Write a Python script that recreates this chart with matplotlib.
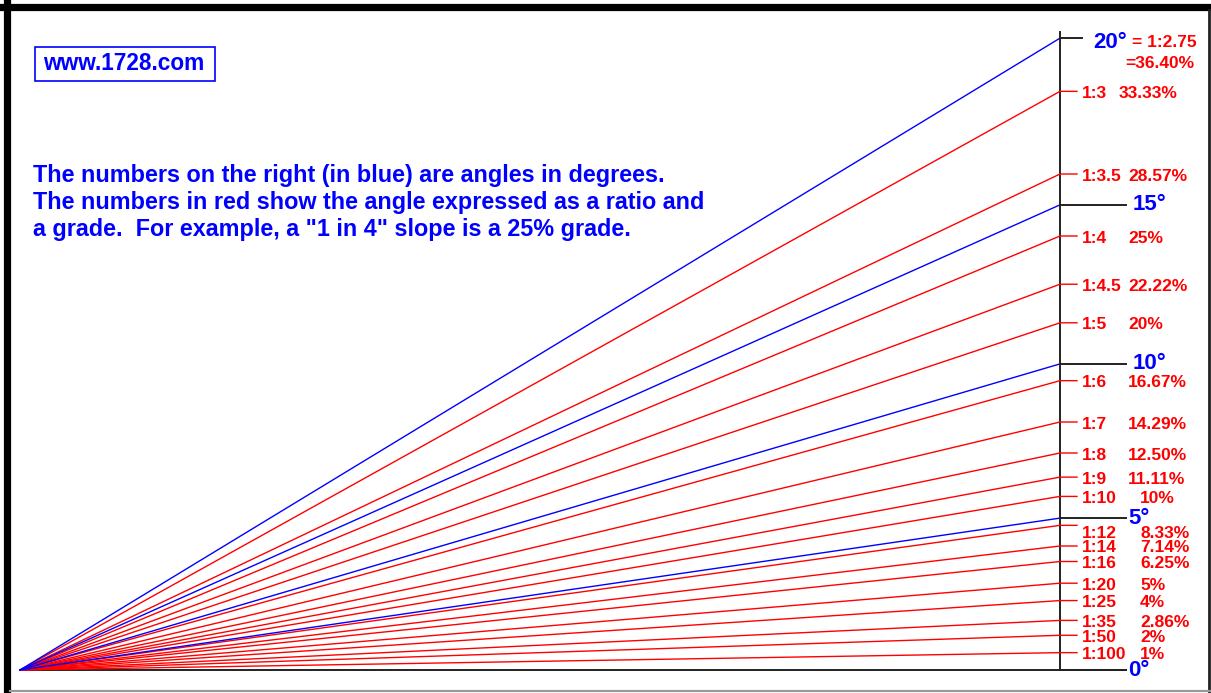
import numpy as np
import matplotlib.pyplot as plt
from matplotlib.patches import Rectangle
from matplotlib.lines import Line2D

# slope ratios (1 in n) with their labels
ratios = [3, 3.5, 4, 4.5, 5, 6, 7, 8, 9, 10, 12, 14, 16, 20, 25, 35, 50, 100]
ratio_labels = ['1:3', '1:3.5', '1:4', '1:4.5', '1:5', '1:6', '1:7', '1:8', '1:9',
                '1:10', '1:12', '1:14', '1:16', '1:20', '1:25', '1:35', '1:50', '1:100']
grade_labels = ['33.33%', '28.57%', '25%', '22.22%', '20%', '16.67%', '14.29%', '12.50%',
                '11.11%', '10%', '8.33%', '7.14%', '6.25%', '5%', '4%', '2.86%', '2%', '1%']

# angles in degrees
angles = [0, 5, 10, 15, 20]
angle_labels = ['0°', '5°', '10°', '15°', '20°']

note_lines = ['The numbers on the right (in blue) are angles in degrees.',
              'The numbers in red show the angle expressed as a ratio and',
              'a grade.  For example, a "1 in 4" slope is a 25% grade.']
site = 'www.1728.com'

# layout (pixels)
W, H = 1211, 693
X0, XA, Y0 = 20, 1060, 670
PPS = 1736.0

def dx(p):
    return (p - X0) / (XA - X0)

def dy(p):
    return (Y0 - p) / PPS

RED = '#ff0000'
BLUE = '#0000ff'
FONT = ['Liberation Sans', 'DejaVu Sans']

fig = plt.figure(figsize=(W / 100, H / 100), dpi=100)
ax = fig.add_axes([0, 0, 1, 1])
ax.set_xlim(dx(0), dx(W))
ax.set_ylim(dy(H), dy(0))
ax.axis('off')

# baseline (0 deg) and vertical scale line
ax.plot([0, dx(1126)], [0, 0], color='#222222', lw=1.4)
ax.plot([1, 1], [0, dy(32)], color='#222222', lw=1.4)

# red ratio lines
slopes = [1.0 / r for r in ratios]
nudge = {12: -6}
for r, s, rl, gl in zip(ratios, slopes, ratio_labels, grade_labels):
    ax.plot([0, 1, dx(1077)], [0, s, s], color=RED, lw=1.0)
    off = -2 + nudge.get(r, 0)
    ax.annotate(rl, xy=(1, s), xytext=(1082 - XA, off), textcoords='offset pixels',
                va='center', ha='left', color=RED, fontsize=12.5,
                fontweight='bold', family=FONT)
    if s <= 0.1001:
        gx = 1140
    elif r == 3:
        gx = 1119
    else:
        gx = 1128
    ax.annotate(gl, xy=(1, s), xytext=(gx - XA, off), textcoords='offset pixels',
                va='center', ha='left', color=RED, fontsize=12.5,
                fontweight='bold', family=FONT)

# blue angle lines
for a, al in zip(angles, angle_labels):
    t = np.tan(np.radians(a))
    if a > 0:
        ax.plot([0, 1], [0, t], color=BLUE, lw=1.0)
    stub = 1082 if a == 20 else 1126
    ax.plot([1, dx(stub)], [t, t], color='#222222', lw=1.4)
    lx = 1093 if a == 20 else (1128 if a in (0, 5) else 1133)
    off = -4 if a == 20 else 0
    ax.annotate(al, xy=(1, t), xytext=(lx - XA, off), textcoords='offset pixels',
                va='center', ha='left', color=BLUE, fontsize=16,
                fontweight='bold', family=FONT)

t20 = np.tan(np.radians(20))
ax.annotate('= 1:%.2f' % (1 / t20), xy=(1, t20), xytext=(1132 - XA, -4),
            textcoords='offset pixels', va='center', ha='left', color=RED,
            fontsize=12.5, fontweight='bold', family=FONT)
ax.annotate('=%.2f%%' % (100 * t20), xy=(1, t20), xytext=(1125 - XA, -25),
            textcoords='offset pixels', va='center', ha='left', color=RED,
            fontsize=12.5, fontweight='bold', family=FONT)

# explanatory note
for i, line in enumerate(note_lines):
    ax.text(dx(33), dy(182 + 27 * i), line, color=BLUE, fontsize=16.8,
            fontweight='bold', family=FONT, va='baseline', ha='left')

# site box
ax.add_patch(Rectangle((dx(35), dy(81)), dx(215) - dx(35), dy(47) - dy(81),
                       fill=False, edgecolor=BLUE, lw=1.2))
ax.text(dx(124), dy(64), site, color=BLUE, fontsize=16.3, fontweight='bold',
        family=FONT, va='center', ha='center')

# window frame
def fline(x0, y0, x1, y1, **kw):
    fig.add_artist(Line2D([x0 / W, x1 / W], [1 - y0 / H, 1 - y1 / H],
                          transform=fig.transFigure, **kw))

fline(6.5, 3, 6.5, H, color='black', lw=5.2)
fline(3, 6.5, W, 6.5, color='black', lw=5.2)
fline(1208.5, 10, 1208.5, H, color='#222222', lw=2.0)
fline(10, 691, W, 691, color='#999999', lw=1.6)

fig.savefig('out.png', dpi=100)
